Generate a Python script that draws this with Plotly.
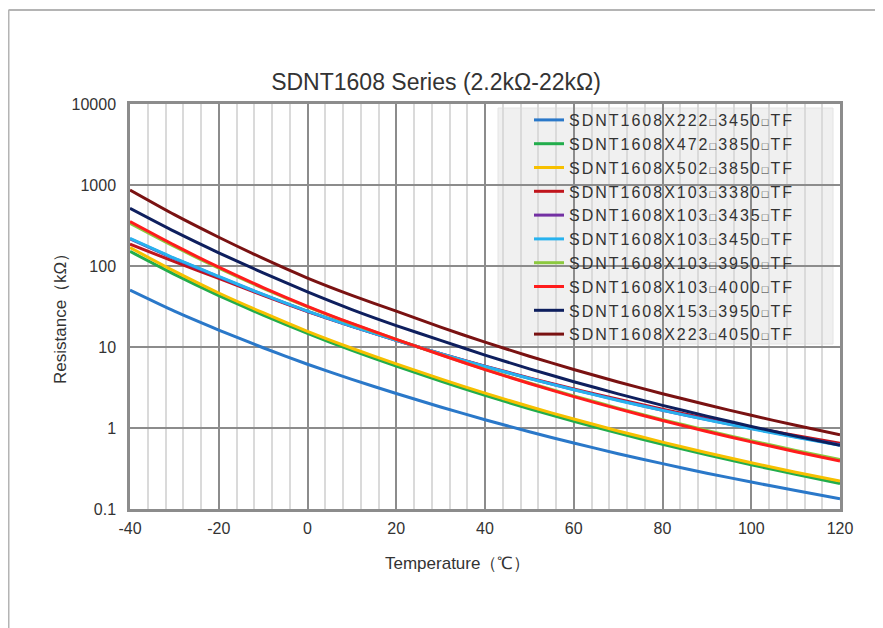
import plotly.graph_objects as go

# ---------------- data ----------------
temps = [-40, -30, -20, -10, 0, 10, 20, 30, 40, 50, 60, 70, 80, 90, 100, 110, 120]

R_222_3450 = [50.4, 27.7, 16.2, 9.79, 6.12, 3.98, 2.67, 1.818, 1.264, 0.899, 0.652, 0.482, 0.363, 0.277, 0.215, 0.169, 0.134]
R_472_3850 = [151.4, 78.9, 43.2, 24.7, 14.7, 9.08, 5.83, 3.80, 2.53, 1.73, 1.21, 0.864, 0.629, 0.466, 0.351, 0.268, 0.207]
R_502_3850 = [168.4, 86.3, 46.4, 26.5, 15.6, 9.66, 6.20, 4.04, 2.69, 1.84, 1.29, 0.920, 0.670, 0.496, 0.373, 0.285, 0.221]
R_103_3380 = [186.3, 113.0, 70.5, 43.4, 27.4, 17.96, 12.13, 8.29, 5.81, 4.16, 3.04, 2.26, 1.71, 1.31, 1.02, 0.81, 0.65]
R_103_3435 = [216.0, 123.3, 73.6, 44.2, 27.6, 17.95, 12.11, 8.27, 5.76, 4.10, 2.98, 2.21, 1.66, 1.27, 0.99, 0.78, 0.62]
R_103_3450 = [219.1, 124.7, 74.3, 44.5, 27.7, 18.0, 12.12, 8.26, 5.75, 4.09, 2.97, 2.19, 1.65, 1.26, 0.977, 0.768, 0.611]
R_103_3950 = [337.6, 174.2, 93.8, 53.0, 31.3, 19.37, 12.41, 8.04, 5.30, 3.59, 2.49, 1.76, 1.27, 0.934, 0.697, 0.529, 0.407]
R_103_4000 = [353.7, 180.9, 96.6, 54.2, 31.8, 19.54, 12.45, 8.02, 5.26, 3.54, 2.44, 1.72, 1.24, 0.906, 0.674, 0.510, 0.391]
R_153_3950 = [515.4, 267.3, 145.5, 82.2, 47.9, 29.0, 18.4, 12.06, 7.95, 5.38, 3.73, 2.64, 1.905, 1.401, 1.046, 0.794, 0.611]
R_223_4050 = [866.8, 430.1, 226.4, 124.0, 71.0, 43.4, 27.7, 17.58, 11.48, 7.69, 5.28, 3.70, 2.653, 1.934, 1.434, 1.080, 0.825]

series_names = [
    "SDNT1608X222□3450□TF",
    "SDNT1608X472□3850□TF",
    "SDNT1608X502□3850□TF",
    "SDNT1608X103□3380□TF",
    "SDNT1608X103□3435□TF",
    "SDNT1608X103□3450□TF",
    "SDNT1608X103□3950□TF",
    "SDNT1608X103□4000□TF",
    "SDNT1608X153□3950□TF",
    "SDNT1608X223□4050□TF",
]
series_values = [R_222_3450, R_472_3850, R_502_3850, R_103_3380, R_103_3435,
                 R_103_3450, R_103_3950, R_103_4000, R_153_3950, R_223_4050]

y_tickvals = [0.1, 1, 10, 100, 1000, 10000]
y_ticktext = ["0.1", "1", "10", "100", "1000", "10000"]
x_tickvals = [-40, -20, 0, 20, 40, 60, 80, 100, 120]
x_ticktext = ["-40", "-20", "0", "20", "40", "60", "80", "100", "120"]

title_text = "SDNT1608 Series (2.2kΩ-22kΩ)"
x_title = "Temperature（℃）"
y_title = "Resistance（kΩ）"

# ---------------- styles ----------------
colors = ["#2a78c9", "#22ad4c", "#f7c000", "#c0151c", "#7330a3",
          "#27b2ee", "#8cc93f", "#ff1c1c", "#0e1f5e", "#7a1212"]
FONT = "Liberation Sans, Arial, sans-serif"
TXT = "#333333"


def legend_label(s):
    parts = s.split("□")
    sq = "<span style='font-size:11px'>□</span>"
    return "<span style='letter-spacing:2px'>" + sq.join(parts) + "</span>"


fig = go.Figure()
for name, vals, col in zip(series_names, series_values, colors):
    fig.add_trace(go.Scatter(
        x=temps, y=vals, mode="lines", name=legend_label(name),
        line=dict(color=col, width=3, shape="spline", smoothing=0.6),
    ))

# the page adds an 8px body margin, so the figure is 8px smaller on each side
OFF = 8
W, H = 883 - OFF, 628 - OFF
# plot area in reference coordinates: x 130..840, y 104..509
L, T = 130 - OFF, 104 - OFF
R = W - (840 - OFF)
B = H - (509 - OFF)
pw, ph = W - L - R, H - T - B


def px(x):  # reference pixel -> paper x
    return (x - OFF - L) / pw


def py(y):  # reference pixel -> paper y
    return (H - B - (y - OFF)) / ph


shapes = []
# legend background box
shapes.append(dict(type="rect", xref="paper", yref="paper",
                   x0=px(498), x1=px(833), y0=py(344), y1=py(108),
                   fillcolor="#f0f0f0", line=dict(color="#e4e4e4", width=1),
                   layer="between"))
# page frame (top and left)
shapes.append(dict(type="line", xref="paper", yref="paper",
                   x0=px(8.5), x1=px(883), y0=py(10), y1=py(10),
                   line=dict(color="#b4b4b4", width=2)))
shapes.append(dict(type="line", xref="paper", yref="paper",
                   x0=px(8.5), x1=px(8.5), y0=py(10), y1=py(628),
                   line=dict(color="#b4b4b4", width=2)))

# axis titles (placed off-centre, as in the reference)
annotations = [
    dict(text=x_title, xref="paper", yref="paper", x=px(457), y=py(563),
         xanchor="center", yanchor="middle", showarrow=False,
         font=dict(size=17, color=TXT, family=FONT)),
    dict(text=y_title, xref="paper", yref="paper", x=px(60), y=py(315),
         xanchor="center", yanchor="middle", showarrow=False, textangle=-90,
         font=dict(size=17, color=TXT, family=FONT)),
]

fig.update_layout(
    width=W, height=H,
    margin=dict(l=L, r=R, t=T, b=B, autoexpand=False),
    paper_bgcolor="white", plot_bgcolor="white",
    font=dict(family=FONT, size=16, color=TXT),
    title=dict(text=title_text, x=(436 - OFF) / W, xref="container", xanchor="center",
               y=1 - (82 - OFF) / H, yref="container", yanchor="middle",
               font=dict(size=23, color=TXT, family=FONT)),
    showlegend=True,
    legend=dict(x=px(529), y=py(103), xanchor="left", yanchor="top",
                bgcolor="rgba(0,0,0,0)", borderwidth=0,
                font=dict(size=16, color=TXT, family=FONT),
                itemwidth=30, tracegroupgap=0),
    shapes=shapes,
    annotations=annotations,
)

fig.update_xaxes(
    range=[-40, 120], tickvals=x_tickvals, ticktext=x_ticktext,
    ticks="", ticklabelstandoff=3,
    showgrid=True, gridcolor="#8c8c8c", gridwidth=2,
    minor=dict(dtick=4, tick0=-40, showgrid=True, gridcolor="#dadada", gridwidth=1.5),
    showline=True, linecolor="#8c8c8c", linewidth=2.5, mirror=True,
    zeroline=False, tickfont=dict(size=16, color=TXT),
)
fig.update_yaxes(
    type="log", range=[-1, 4], tickvals=y_tickvals, ticktext=y_ticktext,
    ticks="", ticklabelstandoff=8,
    showgrid=True, gridcolor="#8c8c8c", gridwidth=2,
    showline=True, linecolor="#8c8c8c", linewidth=2.5, mirror=True,
    zeroline=False, tickfont=dict(size=16, color=TXT),
)

fig.write_html("out.html")
